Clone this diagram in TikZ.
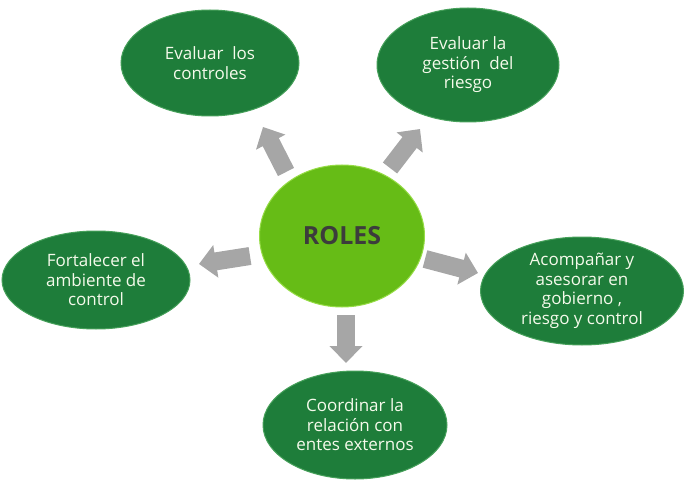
\documentclass[tikz,border=0pt]{standalone}
\usepackage{fontspec}
\setmainfont{Open Sans}
\usepackage{xcolor}
\usepackage{tikz}
\usetikzlibrary{calc, shapes, arrows.meta, positioning}
\definecolor{rolegreen}{RGB}{30,125,58}
\definecolor{rolerim}{RGB}{70,160,90}
\definecolor{centergreen}{RGB}{102,188,22}
\definecolor{centerrim}{RGB}{150,220,70}
\definecolor{arrowgray}{RGB}{166,166,166}
\definecolor{roletext}{RGB}{60,60,60}
\definecolor{rolelabel}{RGB}{245,250,235}
\tikzset{
    rolenode/.style = {draw=rolerim, fill=rolegreen, ellipse, line width=1pt, inner sep=0pt,
      node distance=0em, text=rolelabel, font=\fontsize{17}{19.5}\selectfont, align=center},
    centernode/.style = {draw=centerrim, fill=centergreen, ellipse, line width=1pt, inner sep=0pt,
      node distance=0em, text=roletext, font=\fontsize{25}{30}\selectfont\bfseries,
      minimum width=165pt, minimum height=142pt},
    blockarrow/.style = {arrowgray, line width=18pt, -{Triangle[length=17pt, width=32pt]}},
    every text node part/.style={align=center}
}

\begin{document}
\begin{tikzpicture}[x=1pt, y=-1pt]
\useasboundingbox (0,0) rectangle (685,481);
\node[centernode, name=roles] at (342,236) {ROLES};
\node[rolenode, name=controles, left of = roles, xshift=-132pt, yshift=173pt,
  minimum width=178pt, minimum height=106pt] {Evaluar\ \ los\\controles};
\node[rolenode, name=gestion, right of = roles, xshift=126pt, yshift=171pt,
  minimum width=182pt, minimum height=114pt] {Evaluar la\\gestión\ \ del\\riesgo};
\node[rolenode, name=ambiente, left of = roles, xshift=-246pt, yshift=-44pt,
  minimum width=188pt, minimum height=98pt] {Fortalecer el\\ambiente de\\control};
\node[rolenode, name=asesorar, right of = roles, xshift=240pt, yshift=-55pt,
  minimum width=203pt, minimum height=108pt] {Acompañar y\\asesorar en\\gobierno ,\\riesgo y control};
\node[rolenode, name=externos, below of = roles, xshift=13pt, yshift=-189pt,
  minimum width=184pt, minimum height=108pt] {Coordinar la\\relación con\\entes externos};
% flechas
\coordinate (ulTail) at (286,172);
\coordinate (ulTip) at (263,127);
\coordinate (urTail) at (390,168);
\coordinate (urTip) at (420,129);
\coordinate (lTail) at (250,256);
\coordinate (lTip) at (199,264);
\coordinate (rTail) at (425,259);
\coordinate (rTip) at (478,273);
\coordinate (dTail) at (346,315);
\coordinate (dTip) at (346,363);
\draw[blockarrow] (ulTail) -- (ulTip);
\draw[blockarrow] (urTail) -- (urTip);
\draw[blockarrow] (lTail) -- (lTip);
\draw[blockarrow] (rTail) -- (rTip);
\draw[blockarrow] (dTail) -- (dTip);
\end{tikzpicture}
\end{document}
